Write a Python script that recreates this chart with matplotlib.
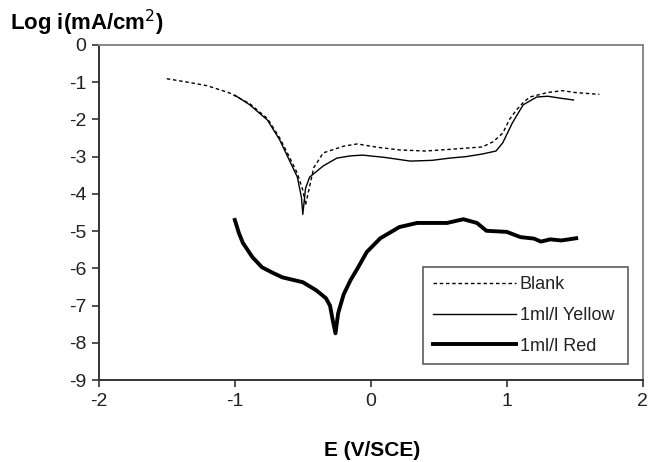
import matplotlib.pyplot as plt
from matplotlib import font_manager

# pick a narrow arial-like font if there is one
names = set(f.name for f in font_manager.fontManager.ttflist)
tick_font = 'Liberation Sans Narrow' if 'Liberation Sans Narrow' in names else 'Liberation Sans'

# Blank
blank_E = [-1.5, -1.35, -1.2, -1.04, -0.89, -0.76, -0.67, -0.6, -0.54, -0.5, -0.48, -0.45, -0.42, -0.35,
           -0.2, -0.1, 0.05, 0.21, 0.4, 0.6, 0.82, 0.9, 0.97, 1.02, 1.07, 1.12, 1.17, 1.3, 1.41, 1.5, 1.68]
blank_i = [-0.91, -1.0, -1.1, -1.29, -1.58, -1.98, -2.5, -3.0, -3.45, -3.9, -4.3, -3.8, -3.3, -2.9,
           -2.72, -2.66, -2.75, -2.82, -2.85, -2.8, -2.74, -2.6, -2.37, -2.0, -1.75, -1.55, -1.4, -1.28, -1.23, -1.28, -1.33]

# 1ml/l Yellow
yellow_E = [-1.0, -0.89, -0.76, -0.67, -0.6, -0.54, -0.51, -0.5, -0.48, -0.45, -0.35, -0.25, -0.15, -0.06,
            0.1, 0.29, 0.45, 0.58, 0.7, 0.82, 0.92, 0.97, 1.04, 1.12, 1.22, 1.3, 1.39, 1.49]
yellow_i = [-1.35, -1.61, -2.02, -2.55, -3.09, -3.55, -4.1, -4.55, -3.85, -3.55, -3.25, -3.04, -2.98, -2.96,
            -3.02, -3.12, -3.1, -3.04, -3.0, -2.93, -2.85, -2.63, -2.1, -1.61, -1.4, -1.38, -1.43, -1.48]

# 1ml/l Red
red_E = [-1.0, -0.97, -0.94, -0.87, -0.8, -0.72, -0.65, -0.5, -0.4, -0.33, -0.3, -0.28, -0.26, -0.24, -0.2, -0.15,
         -0.09, -0.03, 0.07, 0.21, 0.34, 0.45, 0.56, 0.68, 0.78, 0.85, 1.0, 1.1, 1.2, 1.25, 1.32, 1.4, 1.51]
red_i = [-4.7, -5.05, -5.32, -5.7, -5.97, -6.12, -6.24, -6.37, -6.59, -6.8, -7.0, -7.39, -7.74, -7.2, -6.7, -6.32,
         -5.95, -5.56, -5.19, -4.89, -4.78, -4.78, -4.78, -4.68, -4.78, -4.99, -5.02, -5.16, -5.2, -5.28, -5.22, -5.25, -5.19]

fig = plt.figure(figsize=(6.5, 4.62), dpi=100)
ax = fig.add_axes([0.152, 0.177, 0.837, 0.726])

ax.plot(blank_E, blank_i, c='black', linestyle=(0, (2.5, 2)), linewidth=1.0, label='Blank')
ax.plot(yellow_E, yellow_i, c='black', linewidth=1.0, label='1ml/l Yellow')
ax.plot(red_E, red_i, c='black', linewidth=2.8, label='1ml/l Red')

ax.set_xlim(-2, 2)
ax.set_ylim(-9, 0)
ax.set_xticks([-2, -1, 0, 1, 2])
ax.set_yticks(range(-9, 1))
ax.set_xticklabels(['-2', '-1', '0', '1', '2'], fontfamily=tick_font, fontsize=14, color='#222222')
ax.set_yticklabels([str(v) for v in range(-9, 1)], fontfamily=tick_font, fontsize=14, color='#222222')
ax.tick_params(direction='out', length=5, width=1.2, color='#333333', pad=4)

for s in ['left', 'bottom']:
    ax.spines[s].set_color('#333333')
    ax.spines[s].set_linewidth(1.4)
for s in ['top', 'right']:
    ax.spines[s].set_color('#888888')
    ax.spines[s].set_linewidth(1.4)

leg = ax.legend(loc='lower right', bbox_to_anchor=(0.58, 0.02, 0.409, 0.368), mode='expand',
                fancybox=False, frameon=True, handlelength=4.6, handletextpad=0.2,
                labelspacing=0.75, borderpad=0.55, prop={'family': tick_font, 'size': 13})
leg.get_frame().set_edgecolor('#333333')
leg.get_frame().set_linewidth(1.2)
for t in leg.get_texts():
    t.set_color('#222222')

fig.text(0.015, 0.935, 'Log i(mA/cm$^2$)', fontsize=16, fontweight='bold', fontfamily='Liberation Sans')
fig.text(0.572, 0.012, 'E (V/SCE)', fontsize=15, fontweight='bold', fontfamily='Liberation Sans', ha='center')

plt.savefig('out.png', dpi=100)
